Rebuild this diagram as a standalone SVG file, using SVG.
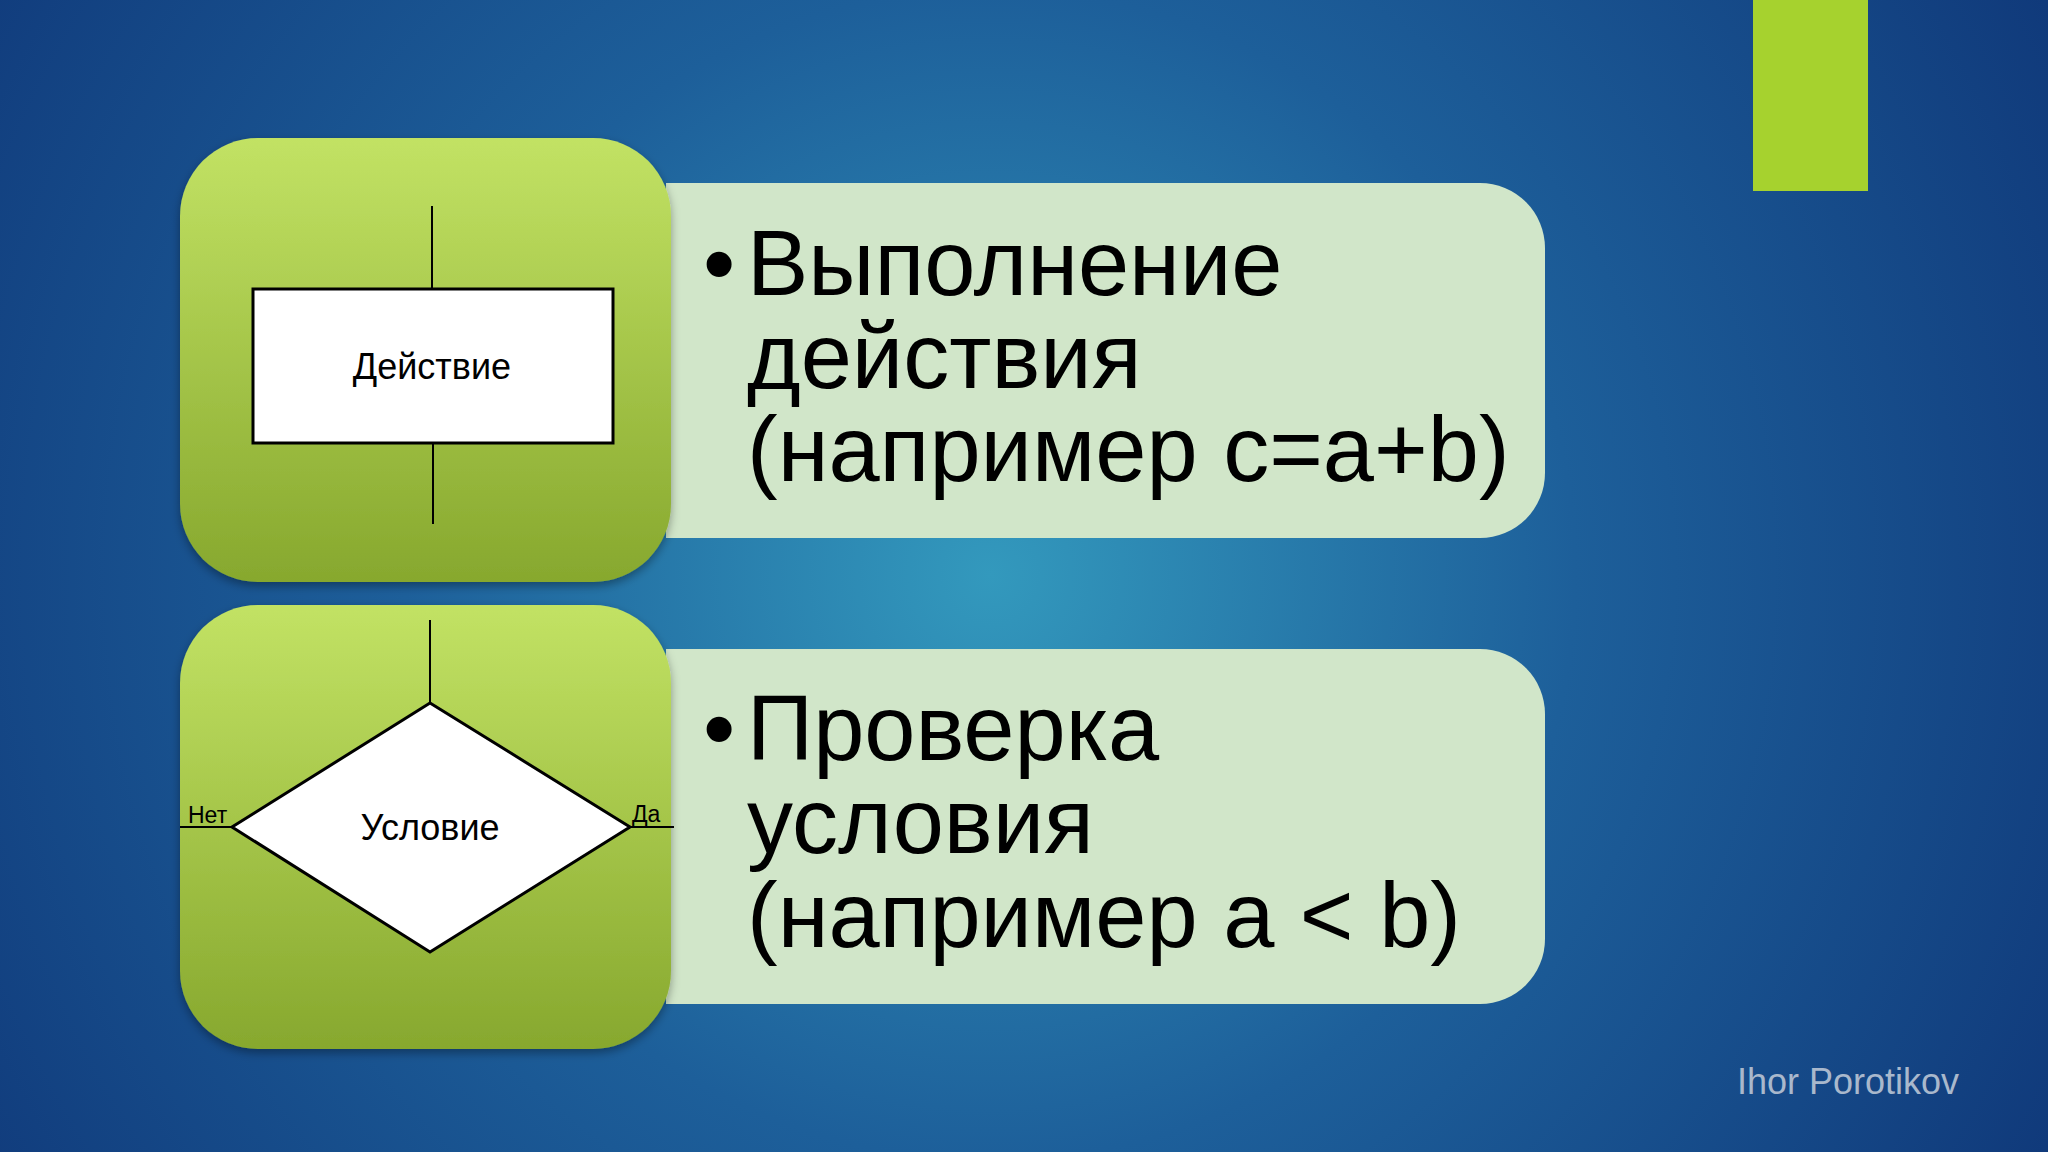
<svg xmlns="http://www.w3.org/2000/svg" width="2048" height="1152" viewBox="0 0 2048 1152">
<defs>
<radialGradient id="bg" cx="990" cy="575" r="1300" gradientUnits="userSpaceOnUse">
<stop offset="0" stop-color="#3399bd"/><stop offset="0.45" stop-color="#1d5f9a"/><stop offset="1" stop-color="#0e3476"/>
</radialGradient>
<linearGradient id="gr" x1="0" y1="0" x2="0" y2="1">
<stop offset="0" stop-color="#c2e264"/><stop offset="1" stop-color="#87a82e"/>
</linearGradient>
<filter id="sh" x="-10%" y="-10%" width="120%" height="120%"><feDropShadow dx="0" dy="4" stdDeviation="5" flood-opacity="0.35"/></filter>
</defs>
<style>
.panel{fill:#d1e6c9}
.sq{fill:url(#gr);filter:url(#sh)}
.big{font-family:"Liberation Sans",Arial,sans-serif;font-size:92px;fill:#000}
.lbl{font-family:"Liberation Sans",Arial,sans-serif;font-size:36px;fill:#000;text-anchor:middle}
.sm{font-family:"Liberation Sans",Arial,sans-serif;font-size:23px;fill:#000}
.ln{stroke:#000;stroke-width:2;fill:none}
</style>
<rect width="2048" height="1152" fill="url(#bg)"/>
<rect x="1753" y="0" width="115" height="191" fill="#a6d22e"/>
<text x="1737" y="1094" font-family="Liberation Sans,Arial,sans-serif" font-size="36" fill="#a9b8cc">Ihor Porotikov</text>
<g id="panel1">
<path class="panel" d="M666 183 H1480 A65 65 0 0 1 1545 248 V473 A65 65 0 0 1 1480 538 H666 Z"/>
<text class="big" x="703" y="295">•</text>
<text class="big" x="747" y="295">Выполнение</text>
<text class="big" x="747" y="388">действия</text>
<text class="big" x="747" y="481">(например c=a+b)</text>
</g>
<g id="panel2">
<path class="panel" d="M666 649 H1480 A65 65 0 0 1 1545 714 V939 A65 65 0 0 1 1480 1004 H666 Z"/>
<text class="big" x="703" y="760">•</text>
<text class="big" x="747" y="760">Проверка</text>
<text class="big" x="747" y="853">условия</text>
<text class="big" x="747" y="947">(например a &lt; b)</text>
</g>
<g id="action">
<rect class="sq" x="180" y="138" width="491" height="444" rx="78"/>
<rect x="253" y="289" width="360" height="154" fill="#fff" stroke="#000" stroke-width="3"/>
<text class="lbl" x="432" y="379">Действие</text>
</g>
<g id="condition">
<rect class="sq" x="180" y="605" width="491" height="444" rx="78"/>
<polygon points="430,703 630,827 430,952 232,827" fill="#fff" stroke="#000" stroke-width="3"/>
<text class="lbl" x="430" y="840">Условие</text>
<text class="sm" x="188" y="823">Нет</text>
<text class="sm" x="632" y="822">Да</text>
</g>
<g id="connectors">
<line class="ln" x1="432" y1="206" x2="432" y2="289"/>
<line class="ln" x1="433" y1="443" x2="433" y2="524"/>
<line class="ln" x1="430" y1="620" x2="430" y2="703"/>
<line class="ln" x1="180" y1="827" x2="232" y2="827"/>
<line class="ln" x1="630" y1="827" x2="674" y2="827"/>
</g>
</svg>
